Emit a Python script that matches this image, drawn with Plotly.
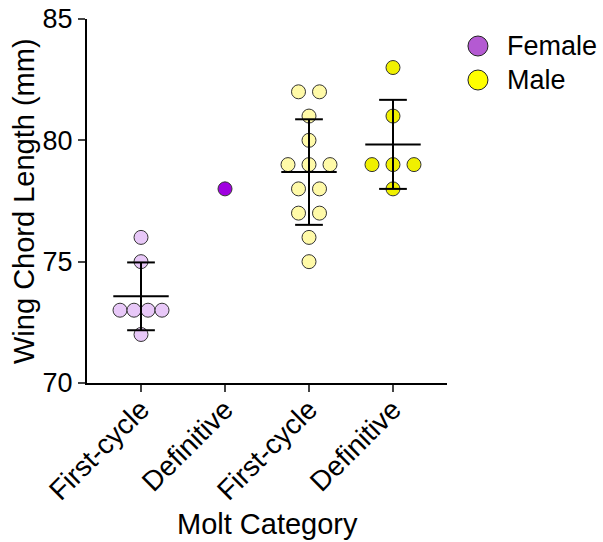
import plotly.graph_objects as go
import numpy as np

categories = ["First-cycle", "Definitive", "First-cycle", "Definitive"]
groups = ["Female", "Female", "Male", "Male"]
female_first_cycle = [76, 75, 73, 73, 73, 73, 72]
female_definitive = [78]
male_first_cycle = [82, 82, 81, 80, 79, 79, 79, 78, 78, 77, 77, 76, 75]
male_definitive = [83, 81, 79, 79, 79, 78]
series = [female_first_cycle, female_definitive, male_first_cycle, male_definitive]
fill_colors = ["#E8C8F8", "#A000E0", "#FFFAA8", "#F0F000"]
legend_names = ["Female", "Male"]
legend_colors = ["#B45AD2", "#FFFF00"]
y_ticks = [70, 75, 80, 85]
x_title = "Molt Category"
y_title = "Wing Chord Length (mm)"

FONT = "Arial, Liberation Sans, sans-serif"

def swarm_offsets(values):
    vals = np.array(values, dtype=float)
    offs = np.zeros(len(vals))
    for v in np.unique(vals):
        idx = np.where(vals == v)[0]
        n = len(idx)
        if n == 1:
            continue
        step = min(0.25, 0.5 / (n - 1))
        offs[idx] = (np.arange(n) - (n - 1) / 2) * step
    return offs

fig = go.Figure()

for i, vals in enumerate(series):
    xs = i + swarm_offsets(vals)
    fig.add_trace(go.Scatter(
        x=xs, y=vals, mode="markers", showlegend=False, cliponaxis=False,
        marker=dict(size=14, color=fill_colors[i], line=dict(color="#333333", width=1)),
        hoverinfo="y"))

# mean and SD bars
for i, vals in enumerate(series):
    if len(vals) < 2:
        continue
    m = float(np.mean(vals))
    s = float(np.std(vals, ddof=1))
    W, C = 0.33, 0.165
    xs = [i - W, i + W, None, i, i, None, i - C, i + C, None, i - C, i + C]
    ys = [m, m, None, m - s, m + s, None, m + s, m + s, None, m - s, m - s]
    fig.add_trace(go.Scatter(x=xs, y=ys, mode="lines", showlegend=False,
                             line=dict(color="black", width=2), hoverinfo="skip"))

# legend (drawn as circle + text for exact placement)
legend_y = [0.9258, 0.8324]
for name, col, ly in zip(legend_names, legend_colors, legend_y):
    fig.add_shape(type="circle", xref="paper", yref="paper",
                  xsizemode="pixel", ysizemode="pixel",
                  xanchor=1.086, yanchor=ly, x0=-10, x1=10, y0=-10, y1=10,
                  fillcolor=col, line=dict(color="#222222", width=1))
    fig.add_annotation(text=name, xref="paper", yref="paper", x=1.161, y=ly,
                       xanchor="left", yanchor="middle", showarrow=False,
                       font=dict(size=27, family=FONT, color="black"))

fig.add_annotation(text=x_title, xref="paper", yref="paper", x=0.5, y=-0.387,
                   xanchor="center", yanchor="middle", showarrow=False,
                   font=dict(size=29, family=FONT, color="black"))
fig.add_annotation(text=y_title, xref="paper", yref="paper", x=-0.175, y=0.5,
                   xanchor="center", yanchor="middle", showarrow=False, textangle=-90,
                   font=dict(size=29, family=FONT, color="black"))

fig.update_layout(
    width=603, height=542,
    margin=dict(l=87, r=156, t=19, b=159, autoexpand=False),
    plot_bgcolor="white", paper_bgcolor="white",
    font=dict(family=FONT, size=27, color="black"),
    showlegend=False,
    xaxis=dict(range=[-0.643, 3.643], tickmode="array", tickvals=[0, 1, 2, 3],
               ticktext=categories, tickangle=-45, ticks="outside", ticklen=7,
               tickwidth=2, showline=True, linewidth=2, linecolor="black",
               showgrid=False, zeroline=False, automargin=False,
               ticklabelstandoff=-10,
               tickfont=dict(size=28, family=FONT)),
    yaxis=dict(range=[70, 85], tickvals=y_ticks, ticks="outside", ticklen=7,
               tickwidth=2, showline=True, linewidth=2, linecolor="black",
               showgrid=False, zeroline=False, automargin=False,
               ticklabeloverflow="allow",
               tickfont=dict(size=27, family=FONT)),
)

fig.write_html("out.html", config={"displayModeBar": False},
               post_script="document.body.style.margin='0';")
